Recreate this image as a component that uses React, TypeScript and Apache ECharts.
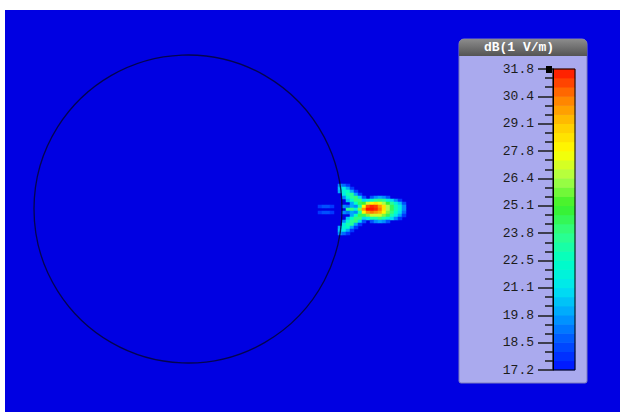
import React, { useEffect, useRef } from "react";
import * as echarts from "echarts";

// Field magnitude (dB re 1 V/m) on a 22 x 17 patch beside the sphere; 0 = below scale
const plumeCols = ["c0","c1","c2","c3","c4","c5","c6","c7","c8","c9","c10","c11","c12","c13","c14","c15","c16","c17","c18","c19","c20","c21"];
const plumeRows = ["r0","r1","r2","r3","r4","r5","r6","r7","r8","r9","r10","r11","r12","r13","r14","r15","r16"];
const plumeValues: number[][] = [
  [0,0,0,0,0,19.5,19,18,0,0,0,0,0,0,0,0,0,0,0,0,0,0],
  [0,0,0,0,0,20.5,21.5,20,18,0,0,0,0,0,0,0,0,0,0,0,0,0],
  [0,0,0,0,0,20,22,22.5,20,18,0,0,0,0,0,0,0,0,0,0,0,0],
  [0,0,0,0,0,0,21.5,23,23.5,20,18,0,0,0,0,0,0,0,0,0,0,0],
  [0,0,0,0,0,0,19.5,22,23.5,24,21,18.5,0,18.5,19.5,20,19.5,18.5,0,0,0,0],
  [0,0,0,0,0,0,0,20.5,22.5,24,24,21,21.5,22.5,23.5,24,23.5,22,21,19.5,18,0],
  [0,0,0,0,0,0,0,0,20,22.5,24.5,25,27,28,28.5,27.5,26.5,25,23.5,22,20.5,18.5],
  [18,18.5,18.5,18,0,0,19.5,19,20,19.5,23,28,31,31.5,31.2,30,28.5,26.5,24.5,23,21.5,19.5],
  [0,0,0,0,0,0,0,23.5,24,22,26,30,31.8,31.8,31.5,30.5,28.5,26.5,24.5,23,21.5,19.5],
  [18,18.5,18.5,18,0,0,19.5,19,20,19.5,23,28,30,30.5,30,29.5,28,26,24,22.5,21,19],
  [0,0,0,0,0,0,0,0,20,22.5,24.5,24.5,26,27,27,27,26,24.5,23,21.5,20,18],
  [0,0,0,0,0,0,0,20.5,22.5,24,24,21,21.5,23,23,24,23,22,21,19.5,18,0],
  [0,0,0,0,0,0,19.5,22,23.5,24,21,18.5,0,18.5,19.5,20,19.5,18.5,0,0,0,0],
  [0,0,0,0,0,0,21.5,23,23.5,20,18,0,0,0,0,0,0,0,0,0,0,0],
  [0,0,0,0,0,20,22,22.5,20,18,0,0,0,0,0,0,0,0,0,0,0,0],
  [0,0,0,0,0,20.5,21.5,20,18,0,0,0,0,0,0,0,0,0,0,0,0,0],
  [0,0,0,0,0,19.5,19,18,0,0,0,0,0,0,0,0,0,0,0,0,0,0],
];

// Colour scale
const scaleMin = 17.2;
const scaleMax = 31.8;
const tickLabels = ["17.2","18.5","19.8","21.1","22.5","23.8","25.1","26.4","27.8","29.1","30.4","31.8"];
const scaleColors = ["#0010ff","#0050ff","#00a0ff","#00e6f0","#00ffc4","#30ff88","#38f028","#a8ff48","#ffff00","#ffc800","#ff7a00","#ff1000"];
const bandValues = [17.42,17.86,18.31,18.75,19.19,19.63,20.08,20.52,20.96,21.41,21.85,22.29,22.74,23.18,23.62,24.06,24.51,24.95,25.39,25.84,26.28,26.72,27.17,27.61,28.05,28.49,28.94,29.38,29.82,30.27,30.71,31.15,31.58];

// Sphere outline (unit circle in model coordinates)
const sphereCenter = [[0, 0]];

const BG = "#0000e2";

export default function App() {
  const ref = useRef<HTMLDivElement>(null);
  useEffect(() => {
    if (!ref.current) return;
    const chart = echarts.init(ref.current, null, { renderer: "svg" });

    const plumeData: any[] = [];
    plumeValues.forEach((row, r) =>
      row.forEach((v, c) => {
        if (v > 0) plumeData.push([c, r, v]);
      })
    );
    const bandData = bandValues.map((v, i) => [0, i, v]);
    const bandCats = bandValues.map((_, i) => "b" + i);

    const option: any = {
      animation: false,
      backgroundColor: BG,
      grid: [
        { left: 29, top: 45, width: 308, height: 308 },
        { left: 313, top: 174, width: 88, height: 51 },
        { left: 548, top: 59, width: 22, height: 301, show: true, borderColor: "#000", borderWidth: 1, backgroundColor: "transparent", z: 10 },
      ],
      xAxis: [
        { type: "value", gridIndex: 0, min: -1, max: 1, show: false },
        { type: "category", gridIndex: 1, data: plumeCols, show: false },
        { type: "category", gridIndex: 2, data: [""], show: false },
      ],
      yAxis: [
        { type: "value", gridIndex: 0, min: -1, max: 1, show: false },
        { type: "category", gridIndex: 1, data: plumeRows, inverse: true, show: false },
        { type: "category", gridIndex: 2, data: bandCats, show: false },
        {
          type: "value",
          gridIndex: 2,
          position: "left",
          min: 0,
          max: 33,
          interval: 3,
          splitLine: { show: false },
          axisLine: { show: true, lineStyle: { color: "#000", width: 1 } },
          axisTick: { show: true, length: 15, lineStyle: { color: "#1a1a1a", width: 1.5 } },
          minorTick: { show: true, splitNumber: 3, length: 8, lineStyle: { color: "#1a1a1a", width: 1.5 } },
          minorSplitLine: { show: false },
          axisLabel: {
            margin: 19,
            color: "#1c1c1c",
            fontSize: 13,
            fontFamily: "Liberation Mono",
            formatter: (v: number) => tickLabels[Math.round(v / 3)] ?? "",
          },
          z: 10,
        },
      ],
      visualMap: {
        show: false,
        type: "continuous",
        min: scaleMin,
        max: scaleMax,
        seriesIndex: [0, 1],
        inRange: { color: scaleColors },
        outOfRange: { color: BG },
      },
      graphic: [
        {
          type: "rect",
          z: 0,
          shape: { x: 454, y: 29, width: 128, height: 344, r: [5, 5, 2, 2] },
          style: { fill: "#aaaaee", stroke: "#7c7cbe", lineWidth: 1 },
        },
        {
          type: "rect",
          z: 1,
          shape: { x: 454, y: 29, width: 128, height: 17, r: [5, 5, 0, 0] },
          style: {
            fill: new echarts.graphic.LinearGradient(0, 0, 0, 1, [
              { offset: 0, color: "#8c8c8c" },
              { offset: 1, color: "#545454" },
            ]),
          },
        },
        {
          type: "text",
          z: 2,
          x: 514,
          y: 37.5,
          style: {
            text: "dB(1 V/m)",
            fill: "#ffffff",
            font: "bold 13px 'Liberation Mono'",
            align: "center",
            verticalAlign: "middle",
          },
        },
        {
          type: "rect",
          z: 20,
          shape: { x: 541, y: 56, width: 6, height: 7 },
          style: { fill: "#000" },
        },
      ],
      series: [
        {
          type: "heatmap",
          xAxisIndex: 1,
          yAxisIndex: 1,
          data: plumeData,
          itemStyle: { borderWidth: 0 },
          silent: true,
          z: 2,
        },
        {
          type: "heatmap",
          xAxisIndex: 2,
          yAxisIndex: 2,
          data: bandData,
          itemStyle: { borderWidth: 0 },
          silent: true,
          z: 5,
        },
        {
          type: "scatter",
          xAxisIndex: 0,
          yAxisIndex: 0,
          data: sphereCenter,
          symbol: "circle",
          symbolSize: 308,
          clip: false,
          silent: true,
          itemStyle: { color: "rgba(0,0,0,0)", borderColor: "#05052a", borderWidth: 1.3 },
          z: 6,
        },
      ],
    };
    chart.setOption(option);
    return () => chart.dispose();
  }, []);

  return (
    <div style={{ position: "fixed", left: 0, top: 0, width: 620, height: 412, background: "#fff" }}>
      <div ref={ref} style={{ position: "absolute", left: 5, top: 10, width: 615, height: 402 }} />
    </div>
  );
}
